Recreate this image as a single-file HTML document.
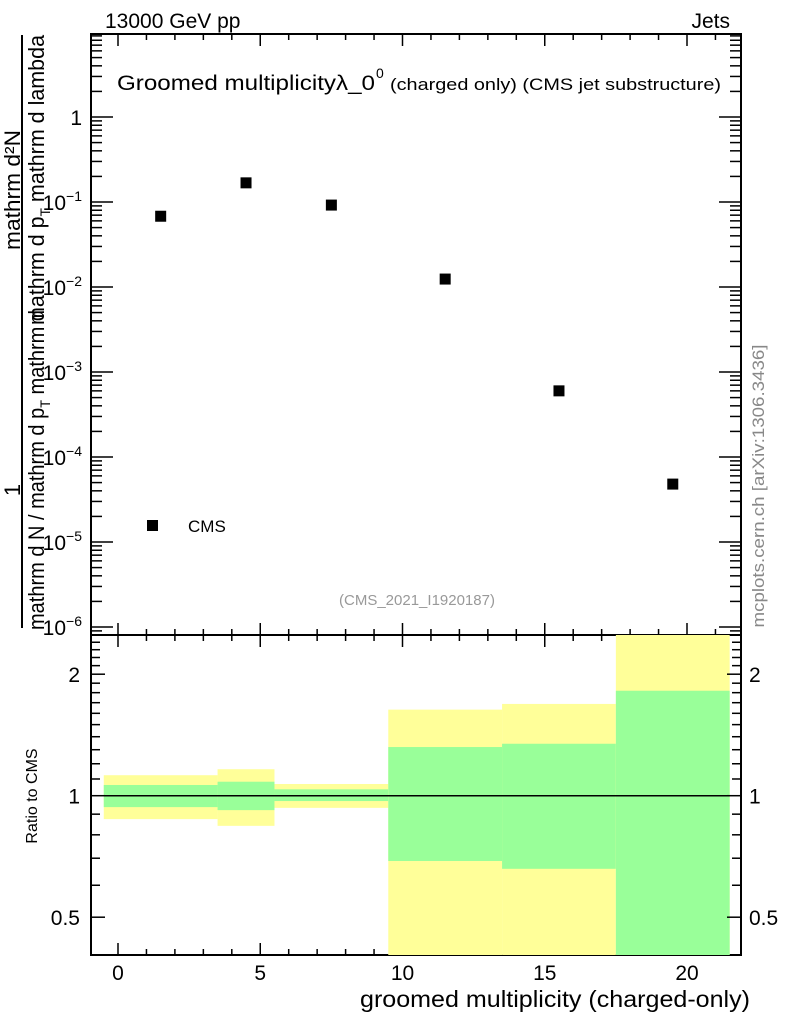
<!DOCTYPE html>
<html><head><meta charset="utf-8"><style>
html,body{margin:0;padding:0;background:#fff;}
svg{display:block;font-family:"Liberation Sans",sans-serif;}
</style></head><body>
<svg id="c" width="786" height="1024" viewBox="0 0 786 1024" xmlns="http://www.w3.org/2000/svg">
<text x="105" y="28" font-size="21">13000 GeV pp</text>
<text x="730" y="28" font-size="21" text-anchor="end">Jets</text>
<text x="117" y="90" font-size="21" textLength="258" lengthAdjust="spacingAndGlyphs">Groomed multiplicityλ_0</text>
<text x="376" y="78" font-size="14">0</text>
<text x="390" y="90" font-size="17" textLength="331" lengthAdjust="spacingAndGlyphs">(charged only) (CMS jet substructure)</text>
<g id="main"></g>
<g id="ratio"></g>
<g>
<line x1="22" y1="35" x2="22" y2="628" stroke="#000" stroke-width="2"/>
<text transform="translate(20,490) rotate(-90)" font-size="22" text-anchor="middle">1</text>
<text transform="translate(20,190) rotate(-90)" font-size="22" text-anchor="middle" textLength="120" lengthAdjust="spacingAndGlyphs">mathrm d²N</text>
<text transform="translate(44,180) rotate(-90)" font-size="22" text-anchor="middle" textLength="290" lengthAdjust="spacingAndGlyphs">mathrm d p<tspan font-size="14" dy="6">T</tspan><tspan dy="-6"> mathrm d lambda</tspan></text>
<text transform="translate(44,470) rotate(-90)" font-size="22" text-anchor="middle" textLength="320" lengthAdjust="spacingAndGlyphs">mathrm d N / mathrm d p<tspan font-size="14" dy="6">T</tspan><tspan dy="-6"> mathrm d</tspan></text>
</g>
<text transform="translate(37,796) rotate(-90)" font-size="16" text-anchor="middle">Ratio to CMS</text>
<text x="750" y="1007" font-size="23" text-anchor="end" textLength="390" lengthAdjust="spacingAndGlyphs">groomed multiplicity (charged-only)</text>
<text transform="translate(764,486) rotate(-90)" font-size="17" fill="#888" text-anchor="middle" textLength="283" lengthAdjust="spacingAndGlyphs">mcplots.cern.ch [arXiv:1306.3436]</text>
<text x="417" y="605" font-size="15" fill="#999" text-anchor="middle">(CMS_2021_I1920187)</text>
<rect x="147" y="520" width="11" height="11" fill="#000"/>
<text x="188" y="532" font-size="17">CMS</text>
</svg>
<script>
const binEdges=[-0.5,3.5,5.5,9.5,13.5,17.5,21.5];
const binCenters=[1.5,4.5,7.5,11.5,15.5,19.5];
const cmsValues=[0.068,0.168,0.092,0.0124,0.0006,0.000048];
const yellowHi=[1.124,1.163,1.069,1.634,1.688,3.0];
const yellowLo=[0.875,0.842,0.933,0.3,0.3,0.3];
const greenHi=[1.063,1.083,1.037,1.32,1.345,1.82];
const greenLo=[0.937,0.921,0.970,0.689,0.659,0.3];
const xTicks=[0,5,10,15,20];
const yTickExps=[0,-1,-2,-3,-4,-5,-6];
const rTicks=[0.5,1,2];

const NS='http://www.w3.org/2000/svg';
const L=91,R=741,T=34,MB=635,RB=955;
const X=v=>118+v*28.45;
const Y=v=>117-Math.log10(v)*85;
const RY=v=>795.7-Math.log2(v)*121.5;
function el(tag,attrs,parent){const e=document.createElementNS(NS,tag);for(const k in attrs)e.setAttribute(k,attrs[k]);parent.appendChild(e);return e;}
const main=document.getElementById('main'),ratio=document.getElementById('ratio');

for(let i=0;i<binCenters.length;i++){
  const x0=X(binEdges[i]),x1=X(binEdges[i+1]);
  const yt=Math.max(RY(yellowHi[i]),MB),yb=Math.min(RY(yellowLo[i]),RB);
  const yb1=el('rect',{x:x0,y:yt,width:x1-x0,height:yb-yt,fill:'#ffff99'},ratio);
  
  
  const gt=Math.max(RY(greenHi[i]),MB),gb=Math.min(RY(greenLo[i]),RB);
  const g=el('rect',{x:x0,y:gt,width:x1-x0,height:gb-gt,fill:'#99ff99'},ratio);
  
  
}
const ref=el('line',{x1:X(-0.5),x2:X(21.5),y1:RY(1),y2:RY(1),stroke:'#000','stroke-width':1.5},ratio);



for(const [t,b] of [[T,MB],[MB,RB]]){
  const f=el('rect',{x:L,y:t,width:R-L,height:b-t,fill:'none',stroke:'#000','stroke-width':2},main);
  
  
}
for(const [t,b] of [[T,MB],[MB,RB]]){
  for(let v=0;v<=22;v++){
    const x=X(v); if(x<L||x>R)continue;
    const major=v%5===0, len=major?12:6;
    el('line',{x1:x,x2:x,y1:b,y2:b-len,stroke:'#000','stroke-width':1.5},main);
    el('line',{x1:x,x2:x,y1:t,y2:t+len,stroke:'#000','stroke-width':1.5},main);
  }
}
xTicks.forEach(v=>{
  const t=el('text',{x:X(v),y:980,'font-size':21,'text-anchor':'middle'},main);
  t.textContent=v;
  
  
});
for(let e=-7;e<=1;e++){
  for(let m=1;m<10;m++){
    const y=Y(m*Math.pow(10,e)); if(y<T||y>MB)continue;
    const len=m===1?22:11;
    el('line',{x1:L,x2:L+len,y1:y,y2:y,stroke:'#000','stroke-width':1.5},main);
    el('line',{x1:R,x2:R-len,y1:y,y2:y,stroke:'#000','stroke-width':1.5},main);
  }
}
yTickExps.forEach(e=>{
  const t=el('text',{x:82,y:Y(Math.pow(10,e))+8,'font-size':21,'text-anchor':'end'},main);
  
  
  if(e===0){t.textContent='1';}
  else{t.textContent='10';const s=el('tspan',{dy:-9,'font-size':14},t);s.textContent='−'+(-e);}
});
[0.4,0.5,0.6,0.7,0.8,0.9,1,1.1,1.2,1.3,1.4,1.5,1.6,1.7,1.8,1.9,2,2.1,2.2,2.3,2.4,2.5].forEach(v=>{
  const y=RY(v); if(y<MB||y>RB)return;
  const len=rTicks.includes(v)?14:9;
  el('line',{x1:L,x2:L+len,y1:y,y2:y,stroke:'#000','stroke-width':1.5},ratio);
  el('line',{x1:R,x2:R-len,y1:y,y2:y,stroke:'#000','stroke-width':1.5},ratio);
});
rTicks.forEach(v=>{
  const a=el('text',{x:80,y:RY(v)+8,'font-size':21,'text-anchor':'end'},ratio);a.textContent=v;
  
  
  const b=el('text',{x:749,y:RY(v)+8,'font-size':21},ratio);b.textContent=v;
  
  
});
binCenters.forEach((c,i)=>{
  const p=el('rect',{x:X(c)-5.5,y:Y(cmsValues[i])-5.5,width:11,height:11,fill:'#000'},main);
  
  
});
</script>
</body></html>
